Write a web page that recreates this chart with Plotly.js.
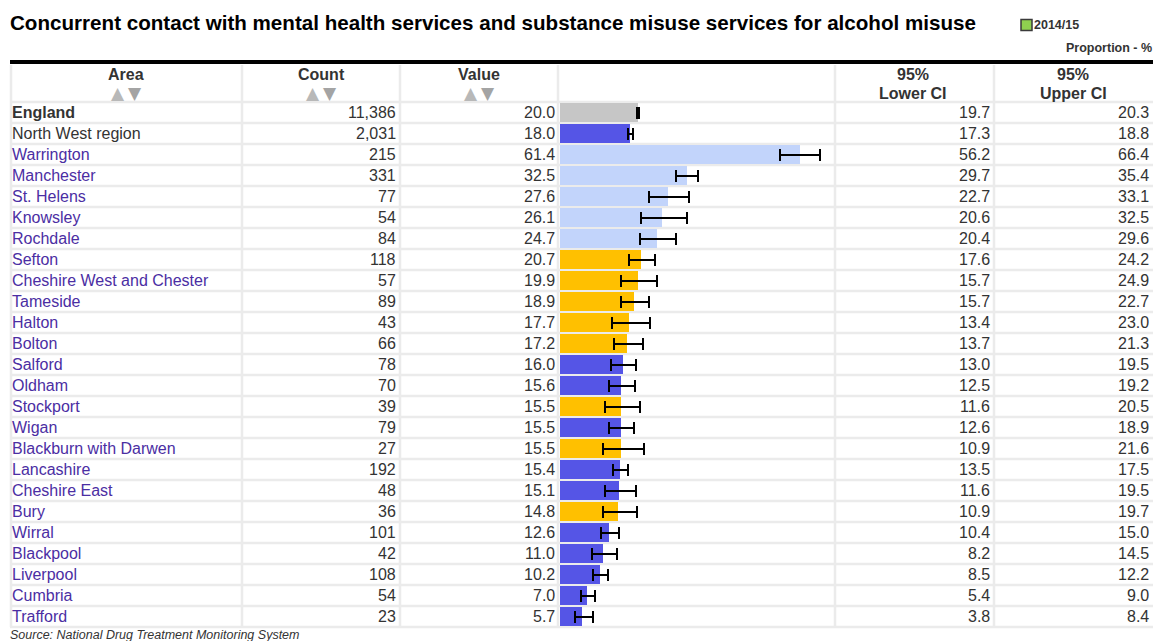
<!DOCTYPE html>
<html>
<head>
<meta charset="utf-8">
<script src="https://cdn.plot.ly/plotly-3.0.1.min.js"></script>
<style>
html,body{margin:0;padding:0;background:#fff;}
#chart{width:1153px;height:641px;}
</style>
</head>
<body>
<div id="chart"></div>
<script>
var areas = ["England","North West region","Warrington","Manchester","St. Helens","Knowsley","Rochdale","Sefton","Cheshire West and Chester","Tameside","Halton","Bolton","Salford","Oldham","Stockport","Wigan","Blackburn with Darwen","Lancashire","Cheshire East","Bury","Wirral","Blackpool","Liverpool","Cumbria","Trafford"];
var counts = [11386,2031,215,331,77,54,84,118,57,89,43,66,78,70,39,79,27,192,48,36,101,42,108,54,23];
var values = [20.0,18.0,61.4,32.5,27.6,26.1,24.7,20.7,19.9,18.9,17.7,17.2,16.0,15.6,15.5,15.5,15.5,15.4,15.1,14.8,12.6,11.0,10.2,7.0,5.7];
var lowerCI = [19.7,17.3,56.2,29.7,22.7,20.6,20.4,17.6,15.7,15.7,13.4,13.7,13.0,12.5,11.6,12.6,10.9,13.5,11.6,10.9,10.4,8.2,8.5,5.4,3.8];
var upperCI = [20.3,18.8,66.4,35.4,33.1,32.5,29.6,24.2,24.9,22.7,23.0,21.3,19.5,19.2,20.5,18.9,21.6,17.5,19.5,19.7,15.0,14.5,12.2,9.0,8.4];
var comparison = ["benchmark","lower","higher","higher","higher","higher","higher","similar","similar","similar","similar","similar","lower","lower","similar","lower","similar","lower","lower","similar","lower","lower","lower","lower","lower"];
var headers = ["Area","Count","Value","95%<br>Lower CI","95%<br>Upper CI"];
var titleText = "Concurrent contact with mental health services and substance misuse services for alcohol misuse";
var periodLabel = "2014/15";
var unitLabel = "Proportion - %";
var sourceText = "Source: National Drug Treatment Monitoring System";

var W = 1153, H = 641;
function px(x){ return x / W; }
function py(y){ return 1 - y / H; }

var compColors = {benchmark:"#c6c6c6", lower:"#5555e6", higher:"#c2d4fb", similar:"#ffc000"};
var rowIdx = areas.map(function(_, i){ return i; });

var FONT = "Liberation Sans, Arial, sans-serif";
var TXT = "#333333";

var trace = {
  type: "bar",
  orientation: "h",
  y: rowIdx,
  x: values,
  width: 0.88,
  marker: {color: comparison.map(function(c){ return compColors[c]; }), line: {width: 0}},
  error_x: {
    type: "data", symmetric: false,
    array: upperCI.map(function(u, i){ return u - values[i]; }),
    arrayminus: lowerCI.map(function(l, i){ return values[i] - l; }),
    color: "#000000", thickness: 2, width: 6
  },
  hoverinfo: "skip"
};

var ann = [];
ann.push({xref:"paper", yref:"paper", x:px(8), y:py(22), xanchor:"left", yanchor:"middle", showarrow:false,
  text:"<b>"+titleText+"</b>", font:{family:FONT, size:20.6, color:"#000"}});
ann.push({xref:"paper", yref:"paper", x:px(1032), y:py(25), xanchor:"left", yanchor:"middle", showarrow:false,
  text:"<b>"+periodLabel+"</b>", font:{family:FONT, size:12.5, color:TXT}});
ann.push({xref:"paper", yref:"paper", x:px(1154), y:py(48), xanchor:"right", yanchor:"middle", showarrow:false,
  text:"<b>"+unitLabel+"</b>", font:{family:FONT, size:12.5, color:TXT}});
ann.push({xref:"paper", yref:"paper", x:px(8), y:py(635), xanchor:"left", yanchor:"middle", showarrow:false,
  text:"<i>"+sourceText+"</i>", font:{family:FONT, size:12.5, color:TXT}});

var headerX = [126, 321, 479, 913, 1073];
headers.forEach(function(h, k){
  var lines = h.split("<br>");
  if (lines.length === 1) {
    ann.push({xref:"paper", yref:"paper", x:px(headerX[k]), y:py(75), xanchor:"center", yanchor:"middle", showarrow:false,
      text:"<b>"+h+"</b>", font:{family:FONT, size:16, color:TXT}});
    ann.push({xref:"paper", yref:"paper", x:px(headerX[k]-8), y:py(93), xanchor:"center", yanchor:"middle", showarrow:false,
      text:"▲", font:{family:"DejaVu Sans", size:17, color:"#b8b8b8"}});
    ann.push({xref:"paper", yref:"paper", x:px(headerX[k]+9), y:py(93), xanchor:"center", yanchor:"middle", showarrow:false,
      text:"▼", font:{family:"DejaVu Sans", size:17, color:"#a4a4a4"}});
  } else {
    ann.push({xref:"paper", yref:"paper", x:px(headerX[k]), y:py(75), xanchor:"center", yanchor:"middle", showarrow:false,
      text:"<b>"+lines[0]+"</b>", font:{family:FONT, size:16, color:TXT}});
    ann.push({xref:"paper", yref:"paper", x:px(headerX[k]), y:py(93), xanchor:"center", yanchor:"middle", showarrow:false,
      text:"<b>"+lines[1]+"</b>", font:{family:FONT, size:16, color:TXT}});
  }
});

areas.forEach(function(a, i){
  var nameColor = i < 2 ? TXT : "#4b2ea3";
  ann.push({xref:"paper", yref:"y", x:px(10), y:i, xanchor:"left", yanchor:"middle", showarrow:false,
    text: i === 0 ? "<b>"+a+"</b>" : a, font:{family:FONT, size:16, color:nameColor}});
  ann.push({xref:"paper", yref:"y", x:px(398), y:i, xanchor:"right", yanchor:"middle", showarrow:false,
    text: counts[i].toLocaleString("en-GB"), font:{family:FONT, size:16, color:TXT}});
  ann.push({xref:"paper", yref:"y", x:px(557), y:i, xanchor:"right", yanchor:"middle", showarrow:false,
    text: values[i].toFixed(1), font:{family:FONT, size:16, color:TXT}});
  ann.push({xref:"paper", yref:"y", x:px(992), y:i, xanchor:"right", yanchor:"middle", showarrow:false,
    text: lowerCI[i].toFixed(1), font:{family:FONT, size:16, color:TXT}});
  ann.push({xref:"paper", yref:"y", x:px(1151), y:i, xanchor:"right", yanchor:"middle", showarrow:false,
    text: upperCI[i].toFixed(1), font:{family:FONT, size:16, color:TXT}});
});

var shapes = [];
var gridColor = "#ebebeb";
var tableTop = 65, headBottom = 102, rowH = 21, nRows = areas.length;
var tableBottom = headBottom + rowH * nRows;
for (var r = 0; r <= nRows; r++) {
  var yy = headBottom + rowH * r;
  shapes.push({type:"line", xref:"paper", yref:"paper", x0:px(10), x1:px(1153), y0:py(yy), y1:py(yy),
    line:{color:gridColor, width:2.5}, layer:"below"});
}
[11, 242, 400, 558, 835, 994].forEach(function(x){
  shapes.push({type:"line", xref:"paper", yref:"paper", x0:px(x), x1:px(x), y0:py(tableTop), y1:py(tableBottom),
    line:{color:gridColor, width:2.5}, layer:"below"});
});
shapes.push({type:"rect", xref:"paper", yref:"paper", x0:px(10), x1:px(1153), y0:py(60), y1:py(64),
  fillcolor:"#000", line:{width:0}});
shapes.push({type:"rect", xref:"paper", yref:"paper", x0:px(1021), x1:px(1032), y0:py(19.5), y1:py(30.5),
  fillcolor:"#8fd14f", line:{color:"#3a3a3a", width:1.5}});

var layout = {
  width: W, height: H,
  margin: {l:0, r:0, t:0, b:0},
  paper_bgcolor: "#fff", plot_bgcolor: "rgba(0,0,0,0)",
  showlegend: false,
  xaxis: {domain:[px(560), px(835)], range:[0, 275/3.909], visible:false, fixedrange:true},
  yaxis: {domain:[py(tableBottom), py(headBottom)], range:[nRows-0.5, -0.5], visible:false, fixedrange:true},
  annotations: ann,
  shapes: shapes,
  bargap: 0
};

Plotly.newPlot("chart", [trace], layout, {displayModeBar:false, staticPlot:true});
</script>
</body>
</html>
